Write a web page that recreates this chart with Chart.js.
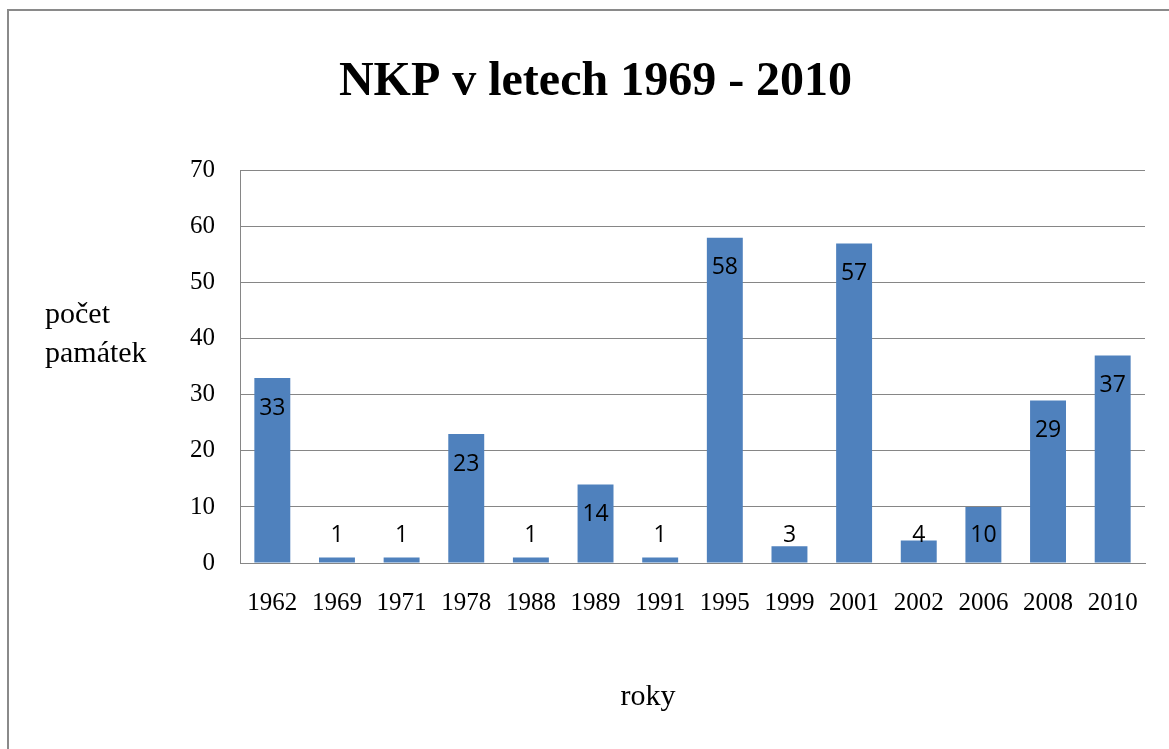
<!DOCTYPE html>
<html>
<head>
<meta charset="utf-8">
<script src="https://cdn.jsdelivr.net/npm/chart.js@4.4.1/dist/chart.umd.min.js"></script>
<style>
  html, body { margin: 0; padding: 0; background: #fff; overflow: hidden; }
  #wrap { position: relative; width: 1169px; height: 749px; }
  #frame { position: absolute; left: 7px; top: 9px; width: 1300px; height: 900px;
           border-left: 2px solid #8a8a8a; border-top: 2px solid #8a8a8a; pointer-events: none; }
  canvas { position: absolute; left: 0; top: 0; }
</style>
</head>
<body>
<div id="wrap">
  <canvas id="c" width="1169" height="749"></canvas>
  <div id="frame"></div>
</div>
<script>
const categories = ["1962","1969","1971","1978","1988","1989","1991","1995","1999","2001","2002","2006","2008","2010"];
const values = [33, 1, 1, 23, 1, 14, 1, 58, 3, 57, 4, 10, 29, 37];
const yTicks = [0, 10, 20, 30, 40, 50, 60, 70];
const chartTitle = "NKP v letech 1969 - 2010";
const yTitleLines = ["počet", "památek"];
const xTitle = "roky";

const serif = "'Liberation Serif', 'Times New Roman', serif";

const labelsPlugin = {
  id: 'barLabels',
  afterDatasetsDraw(chart) {
    const ctx = chart.ctx;
    const meta = chart.getDatasetMeta(0);
    ctx.save();
    ctx.font = "23px 'Open Sans', sans-serif";
    ctx.fillStyle = '#000';
    ctx.textAlign = 'center';
    ctx.textBaseline = 'middle';
    meta.data.forEach((bar, i) => {
      const y = Math.min(bar.y + 30, bar.base - 27);
      ctx.fillText(String(values[i]), bar.x, y);
    });
    ctx.restore();
  }
};

const axisTitlesPlugin = {
  id: 'axisTitles',
  afterDraw(chart) {
    const ctx = chart.ctx;
    ctx.save();
    ctx.font = "30px " + serif;
    ctx.fillStyle = '#000';
    ctx.textAlign = 'left';
    ctx.textBaseline = 'alphabetic';
    ctx.fillText(yTitleLines[0], 45, 323);
    ctx.fillText(yTitleLines[1], 45, 362);
    ctx.textAlign = 'center';
    ctx.textBaseline = 'middle';
    ctx.fillText(xTitle, 648, 697);
    ctx.restore();
  }
};

new Chart(document.getElementById('c'), {
  type: 'bar',
  data: {
    labels: categories,
    datasets: [{
      data: values,
      backgroundColor: '#4F81BD',
      borderWidth: 0,
      barPercentage: 0.556,
      categoryPercentage: 1.0
    }]
  },
  options: {
    responsive: false,
    animation: false,
    layout: { padding: { left: 46, right: 24, top: 0, bottom: 0 } },
    plugins: {
      legend: { display: false },
      tooltip: { enabled: false },
      title: {
        display: true,
        text: chartTitle,
        color: '#000',
        font: { family: serif, size: 48, weight: 'bold' },
        padding: { top: 54, bottom: 59 }
      }
    },
    scales: {
      x: {
        grid: { display: false, drawTicks: false },
        border: { display: true, color: '#868686', width: 1 },
        ticks: { color: '#000', font: { family: serif, size: 25 }, padding: 25, maxRotation: 0, autoSkip: false },
        afterFit(scale) { scale.height = 186; }
      },
      y: {
        min: 0, max: 70,
        afterBuildTicks(scale) { scale.ticks = yTicks.map(v => ({ value: v })); },
        grid: { color: '#868686', lineWidth: 1, drawTicks: false },
        border: { display: true, color: '#868686', width: 1 },
        ticks: { color: '#000', font: { family: serif, size: 25 }, padding: 25 },
        afterFit(scale) { scale.width = 194; }
      }
    }
  },
  plugins: [labelsPlugin, axisTitlesPlugin]
});
</script>
</body>
</html>
